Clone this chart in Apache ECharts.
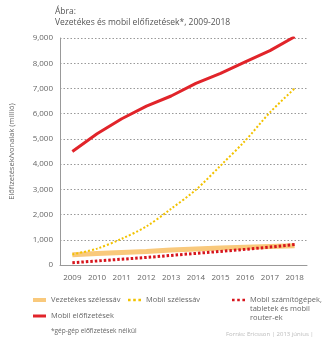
<!DOCTYPE html>
<html><head><meta charset="utf-8">
<script src="https://cdn.jsdelivr.net/npm/echarts@6/dist/echarts.min.js"></script>
<style>html,body{margin:0;padding:0;background:#fff}#c{width:330px;height:341px}</style>
</head><body><div id="c"></div>
<script>
var years = ['2009','2010','2011','2012','2013','2014','2015','2016','2017','2018'];
var vezetekes = [410, 460, 500, 540, 590, 630, 670, 700, 730, 760];
var mobilSzeles = [420, 650, 1040, 1530, 2230, 2980, 3940, 4930, 6050, 7000];
var mobilGepek = [90, 160, 230, 300, 380, 460, 540, 620, 710, 810];
var mobilElofiz = [4500, 5200, 5800, 6300, 6700, 7200, 7600, 8050, 8500, 9050];
var yTicks = [0, 1000, 2000, 3000, 4000, 5000, 6000, 7000, 8000, 9000];

var FONT = 'Open Sans';
var dots = 'path://M0,0h2v2h-2z M4,0h2v2h-2z M8,0h2v2h-2z';
var chart = echarts.init(document.getElementById('c'), null, {renderer:'canvas'});
function lg(name, left, top, icon, h){
  return {data:[{name:name, icon:icon}], left:left, top:top, itemWidth:13, itemHeight:h,
    padding:0, textStyle:{fontFamily:FONT, fontSize:7.5, color:'#666'},
    selectedMode:false};
}
chart.setOption({
  animation:false,
  textStyle:{fontFamily:FONT},
  title:{text:'Ábra:\nVezetékes és mobil előfizetések*, 2009-2018', left:50, top:1,
    textStyle:{fontFamily:FONT, fontSize:8.5, fontWeight:'normal', color:'#555', lineHeight:11}},
  grid:{left:51, right:23, top:38, bottom:76, containLabel:false},
  legend:[
    lg('Vezetékes szélessáv', 33, 296, 'rect', 4),
    lg('Mobil szélessáv', 128, 296, dots, 3),
    lg('Mobil számítógépek, tabletek és mobil router-ek', 232, 296, dots, 3),
    lg('Mobil előfizetések', 33, 312, 'rect', 3)
  ],
  xAxis:{type:'category', data:years, boundaryGap:true,
    axisLine:{lineStyle:{color:'#999', width:1}},
    axisTick:{alignWithLabel:true, length:4, lineStyle:{color:'#999'}},
    axisLabel:{color:'#666', fontSize:8, margin:9, fontFamily:FONT}},
  yAxis:{type:'value', min:0, max:9000, interval:1000,
    name:'Előfizetések/vonalak (millió)', nameLocation:'middle', nameRotate:90, nameGap:44,
    nameTextStyle:{color:'#666', fontSize:7.5, fontFamily:FONT},
    axisLine:{show:true, lineStyle:{color:'#999', width:1}},
    axisTick:{show:false},
    splitLine:{lineStyle:{color:'#999', type:[1.5,2], width:1}},
    axisLabel:{color:'#666', fontSize:8, margin:7, fontFamily:FONT,
      formatter:function(v){return v.toLocaleString('en-US');}}},
  series:[
    {name:'Vezetékes szélessáv', type:'line', data:vezetekes, symbol:'none',
      lineStyle:{color:'#f9c97c', width:5}, itemStyle:{color:'#f9c97c'}, z:2},
    {name:'Mobil szélessáv', type:'line', data:mobilSzeles, symbol:'none', smooth:0.3,
      lineStyle:{color:'#f2c200', width:2, type:[2,2]}, itemStyle:{color:'#f2c200'}, z:3},
    {name:'Mobil számítógépek, tabletek és mobil router-ek', type:'line', data:mobilGepek, symbol:'none',
      lineStyle:{color:'#d7141c', width:3, type:[2.5,2]}, itemStyle:{color:'#d7141c'}, z:4},
    {name:'Mobil előfizetések', type:'line', data:mobilElofiz, symbol:'none',
      lineStyle:{color:'#e1242a', width:3}, itemStyle:{color:'#e1242a'}, z:5}
  ],
  graphic:[
    {type:'text', left:51, top:328, style:{text:'*gép-gép előfizetések nélkül', fill:'#666', fontSize:6.5, fontFamily:FONT}},
    {type:'text', left:226, top:331, style:{text:'Forrás: Ericsson | 2013 június |', fill:'#bbb', fontSize:6, fontFamily:FONT}}
  ]
});
// multiline legend text for third series
chart.setOption({legend:[{},{},{formatter:function(){return 'Mobil számítógépek,';}},{}],
  graphic:[{},{},{type:'text', left:250, top:304, style:{text:'tabletek és mobil\nrouter-ek', fill:'#666', fontSize:7.5, lineHeight:9.5, fontFamily:FONT}}]});
</script></body></html>
